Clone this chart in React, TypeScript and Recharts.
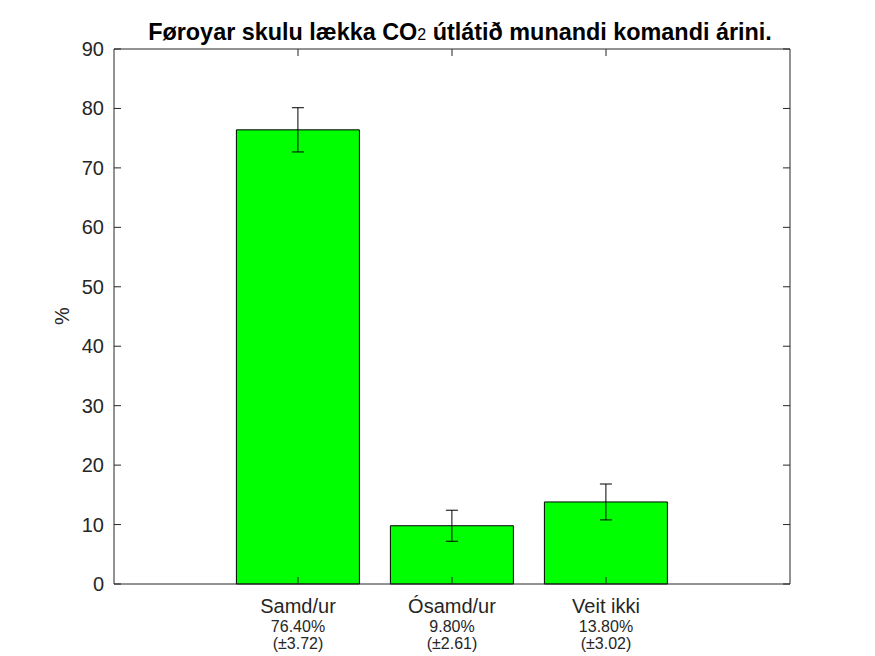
import { ComposedChart, Bar, Line, XAxis, YAxis, ErrorBar } from "recharts";

// Data
const categories = ["Samd/ur", "Ósamd/ur", "Veit ikki"];
const shares = [76.4, 9.8, 13.8];
const margins = [3.72, 2.61, 3.02];
const yTicks = [0, 10, 20, 30, 40, 50, 60, 70, 80, 90];

const data = categories.map((name, i) => ({ name, value: shares[i], err: margins[i] }));

const FONT = "'Liberation Sans', Arial, Helvetica, sans-serif";
const INK = "#262626";

function BottomTick(props: any) {
  const { x, y, index } = props;
  return (
    <g>
      <line x1={x} y1={y} x2={x} y2={y - 7} stroke={INK} strokeWidth={1} />
      <text x={x} y={y + 29} textAnchor="middle" fontSize={20} fill={INK} fontFamily={FONT}>
        {categories[index]}
      </text>
      <text x={x} y={y + 48} textAnchor="middle" fontSize={16} fill={INK} fontFamily={FONT}>
        {shares[index].toFixed(2)}%
      </text>
      <text x={x} y={y + 65} textAnchor="middle" fontSize={16} fill={INK} fontFamily={FONT}>
        (±{margins[index].toFixed(2)})
      </text>
    </g>
  );
}

function TopTick(props: any) {
  const { x, y } = props;
  return <line x1={x} y1={y} x2={x} y2={y + 7} stroke={INK} strokeWidth={1} />;
}

function LeftTick(props: any) {
  const { x, y, payload } = props;
  return (
    <g>
      <line x1={x} y1={y} x2={x + 7} y2={y} stroke={INK} strokeWidth={1} />
      <text x={x - 10} y={y + 7} textAnchor="end" fontSize={20} fill={INK} fontFamily={FONT}>
        {payload.value}
      </text>
    </g>
  );
}

function RightTick(props: any) {
  const { x, y } = props;
  return <line x1={x} y1={y} x2={x - 7} y2={y} stroke={INK} strokeWidth={1} />;
}

export default function App() {
  return (
    <div style={{ position: "fixed", left: 0, top: 0, width: 875, height: 656, background: "#fff" }}>
      <ComposedChart
        width={875}
        height={656}
        data={data}
        margin={{ top: 48, right: 84, bottom: 2, left: 54 }}
        barCategoryGap="10%"
      >
        <text x={460} y={40} textAnchor="middle" fontSize={23.4} fontWeight="bold" fill="#000" fontFamily={FONT}>
          Føroyar skulu lækka CO<tspan fontSize={16} fontWeight="normal">2</tspan> útlátið munandi komandi árini.
        </text>
        <text
          x={69}
          y={316}
          transform="rotate(-90 69 316)"
          textAnchor="middle"
          fontSize={20}
          fill={INK}
          fontFamily={FONT}
        >
          %
        </text>
        <XAxis
          dataKey="name"
          padding={{ left: 107, right: 107 }}
          height={70}
          tickSize={0}
          tickMargin={0}
          tickLine={false}
          axisLine={{ stroke: INK }}
          tick={<BottomTick />}
          interval={0}
        />
        <XAxis
          xAxisId="top"
          orientation="top"
          type="category"
          dataKey="name"
          padding={{ left: 107, right: 107 }}
          height={1}
          tickSize={0}
          tickMargin={0}
          tickLine={false}
          axisLine={{ stroke: INK }}
          tick={<TopTick />}
          interval={0}
        />
        <YAxis
          domain={[0, 90]}
          ticks={yTicks}
          width={60}
          tickSize={0}
          tickMargin={0}
          tickLine={false}
          axisLine={{ stroke: INK }}
          tick={<LeftTick />}
          interval={0}
        />
        <YAxis
          yAxisId="right"
          orientation="right"
          type="number"
          domain={[0, 90]}
          ticks={yTicks}
          width={1}
          tickSize={0}
          tickMargin={0}
          tickLine={false}
          axisLine={{ stroke: INK }}
          tick={<RightTick />}
          interval={0}
        />
        <Bar dataKey="value" fill="#00FF00" stroke="#000" strokeWidth={1} isAnimationActive={false}>
          <ErrorBar dataKey="err" width={6} stroke="#000" strokeWidth={1} />
        </Bar>
        {/* invisible series so the top and right box axes render */}
        <Line
          xAxisId="top"
          yAxisId="right"
          dataKey="value"
          stroke="#fff"
          strokeOpacity={0}
          dot={false}
          activeDot={false}
          legendType="none"
          isAnimationActive={false}
        />
      </ComposedChart>
    </div>
  );
}
